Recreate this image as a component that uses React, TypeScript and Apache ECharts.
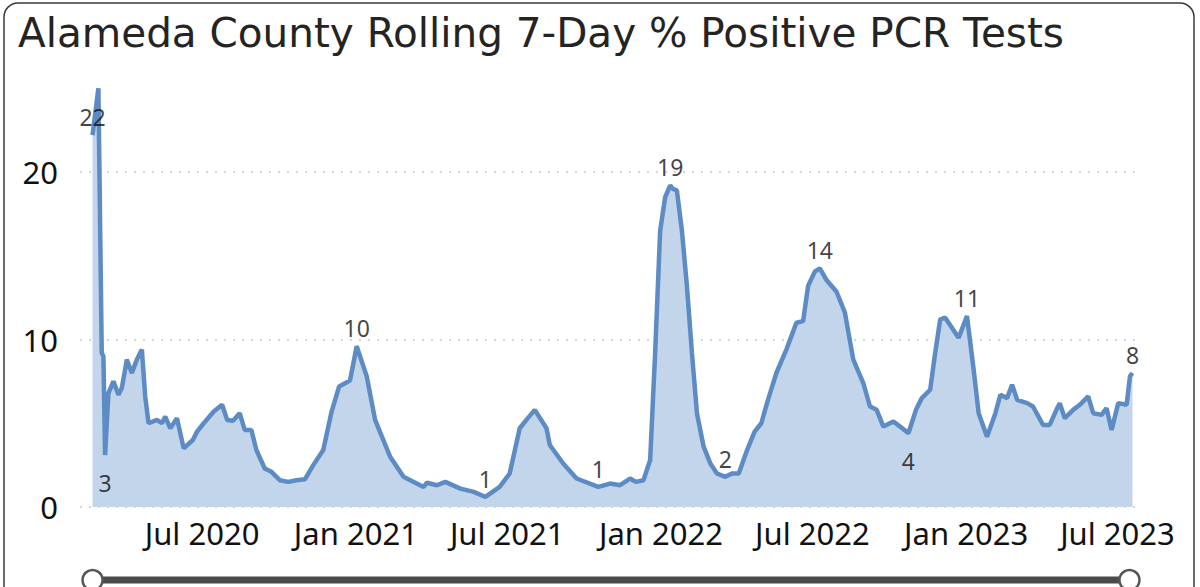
import React, { useEffect, useRef } from 'react';
import * as echarts from 'echarts';

const dates: string[] = [
  '2020-02-21', '2020-02-28', '2020-03-03', '2020-03-05', '2020-03-07', '2020-03-11', '2020-03-17', '2020-03-23',
  '2020-03-27', '2020-04-02', '2020-04-08', '2020-04-14', '2020-04-20', '2020-04-24', '2020-04-28', '2020-05-08',
  '2020-05-14', '2020-05-18', '2020-05-24', '2020-06-01', '2020-06-09', '2020-06-20', '2020-06-25', '2020-07-03',
  '2020-07-15', '2020-07-25', '2020-07-31', '2020-08-07', '2020-08-15', '2020-08-21', '2020-08-29', '2020-09-04',
  '2020-09-14', '2020-09-22', '2020-10-02', '2020-10-12', '2020-10-22', '2020-11-01', '2020-11-11', '2020-11-23',
  '2020-12-03', '2020-12-12', '2020-12-25', '2021-01-02', '2021-01-14', '2021-01-24', '2021-02-11', '2021-02-27',
  '2021-03-23', '2021-03-27', '2021-04-08', '2021-04-18', '2021-05-06', '2021-05-22', '2021-06-05', '2021-06-22',
  '2021-07-04', '2021-07-16', '2021-07-24', '2021-08-03', '2021-08-17', '2021-08-21', '2021-09-06', '2021-09-22',
  '2021-10-18', '2021-11-01', '2021-11-13', '2021-11-25', '2021-12-02', '2021-12-11', '2021-12-19', '2021-12-25',
  '2021-12-31', '2022-01-06', '2022-01-12', '2022-01-15', '2022-01-20', '2022-01-26', '2022-02-01', '2022-02-07',
  '2022-02-13', '2022-02-21', '2022-03-01', '2022-03-09', '2022-03-19', '2022-03-27', '2022-04-04', '2022-04-14',
  '2022-04-23', '2022-05-01', '2022-05-09', '2022-05-19', '2022-05-31', '2022-06-06', '2022-06-12', '2022-06-20',
  '2022-06-26', '2022-07-04', '2022-07-10', '2022-07-18', '2022-07-30', '2022-08-09', '2022-08-19', '2022-08-31',
  '2022-09-08', '2022-09-16', '2022-09-24', '2022-10-06', '2022-10-14', '2022-10-24', '2022-11-02', '2022-11-09',
  '2022-11-19', '2022-11-25', '2022-12-01', '2022-12-07', '2022-12-15', '2022-12-23', '2023-01-02', '2023-01-10',
  '2023-01-16', '2023-01-26', '2023-02-05', '2023-02-11', '2023-02-19', '2023-02-25', '2023-03-03', '2023-03-15',
  '2023-03-22', '2023-04-03', '2023-04-11', '2023-04-19', '2023-04-23', '2023-04-29', '2023-05-09', '2023-05-17',
  '2023-05-27', '2023-06-02', '2023-06-12', '2023-06-18', '2023-06-24', '2023-07-02', '2023-07-12', '2023-07-16',
  '2023-07-19',
];

const values: number[] = [
  22.2, 25.0, 9.2, 9.0, 3.1, 6.8, 7.5, 6.7,
  7.1, 8.8, 8.0, 8.8, 9.4, 6.6, 5.0, 5.2,
  5.0, 5.4, 4.7, 5.3, 3.5, 4.0, 4.5, 5.0,
  5.7, 6.1, 5.2, 5.15, 5.6, 4.6, 4.6, 3.4,
  2.3, 2.1, 1.6, 1.5, 1.6, 1.65, 2.5, 3.4,
  5.7, 7.2, 7.55, 9.6, 7.8, 5.2, 3.0, 1.8,
  1.2, 1.45, 1.3, 1.5, 1.1, 0.9, 0.6, 1.2,
  2.0, 4.7, 5.2, 5.8, 4.7, 3.7, 2.6, 1.7,
  1.2, 1.4, 1.3, 1.7, 1.5, 1.6, 2.8, 9.2,
  16.5, 18.5, 19.2, 19.0, 18.9, 16.5, 13.2, 9.2,
  5.6, 3.6, 2.6, 2.0, 1.8, 2.0, 2.0, 3.4,
  4.5, 5.0, 6.4, 8.0, 9.4, 10.2, 11.0, 11.1,
  13.2, 14.05, 14.25, 13.55, 12.85, 11.6, 8.8, 7.4,
  6.0, 5.8, 4.8, 5.1, 4.8, 4.4, 5.8, 6.5,
  7.0, 9.2, 11.2, 11.3, 10.7, 10.1, 11.4, 8.2,
  5.6, 4.2, 5.6, 6.7, 6.5, 7.3, 6.4, 6.2,
  6.0, 4.9, 4.9, 5.8, 6.2, 5.3, 5.8, 6.1,
  6.6, 5.6, 5.5, 5.9, 4.6, 6.2, 6.1, 7.8,
  8.0,
];

const labelDates: string[] = [
  '2020-02-21', '2020-03-07', '2021-01-02', '2021-06-05', '2021-10-18', '2022-01-12',
  '2022-03-19', '2022-07-10', '2022-10-24', '2023-01-02', '2023-07-19',
];
const labelPositions: string[] = [
  'top', 'bottom', 'top', 'top', 'top', 'top', 'top', 'top', 'bottom', 'top', 'top',
];

const xTickDates: string[] = [
  '2020-07-01', '2021-01-01', '2021-07-01', '2022-01-01', '2022-07-01', '2023-01-01', '2023-07-01',
];
const xTickLabels: string[] = [
  'Jul 2020', 'Jan 2021', 'Jul 2021', 'Jan 2022', 'Jul 2022', 'Jan 2023', 'Jul 2023',
];
const xRange: string[] = ['2020-02-06', '2023-07-28'];
const yTicks: number[] = [0, 10, 20];

const TITLE = 'Alameda County Rolling 7-Day % Positive PCR Tests';

const toTs = (s: string): number => {
  const [y, m, d] = s.split('-').map(Number);
  return Date.UTC(y, m - 1, d);
};

export default function App() {
  const ref = useRef<HTMLDivElement>(null);

  useEffect(() => {
    if (!ref.current) return;
    const chart = echarts.init(ref.current, undefined, { renderer: 'svg' });

    const lineData = dates.map((d, i) => [toTs(d), values[i]]);
    const labelData = labelDates.map((d, i) => {
      const idx = dates.indexOf(d);
      return {
        value: [toTs(d), values[idx]],
        label: {
          show: true,
          position: labelPositions[i],
          distance: labelPositions[i] === 'top' ? 6 : 16,
        },
      };
    });
    const tickTs = xTickDates.map(toTs);

    chart.setOption({
      animation: false,
      title: {
        text: TITLE,
        left: 13,
        top: 7,
        textStyle: {
          fontFamily: 'DejaVu Sans',
          fontSize: 40.5,
          fontWeight: 'normal',
          color: '#252423',
        },
      },
      grid: { left: 80, right: 60, top: 172, bottom: 80 },
      xAxis: {
        type: 'value',
        min: toTs(xRange[0]),
        max: toTs(xRange[1]),
        axisLine: { show: false },
        axisTick: { show: false },
        splitLine: { show: false },
        axisLabel: {
          customValues: tickTs,
          formatter: (v: number) => {
            const i = tickTs.indexOf(v);
            return i >= 0 ? xTickLabels[i] : '';
          },
          fontFamily: 'Noto Sans',
          fontSize: 31,
          color: '#111',
          margin: 10,
          hideOverlap: false,
        },
      },
      yAxis: {
        type: 'value',
        min: yTicks[0],
        max: yTicks[yTicks.length - 1],
        interval: 10,
        axisLine: { show: false },
        axisTick: { show: false },
        splitLine: {
          show: true,
          lineStyle: { color: '#c8c8c8', type: [2, 7], width: 1.5 },
        },
        axisLabel: {
          fontFamily: 'Noto Sans',
          fontSize: 31,
          color: '#111',
          margin: 22,
        },
      },
      series: [
        {
          type: 'line',
          data: lineData,
          showSymbol: false,
          clip: false,
          lineStyle: { color: '#5d8bc4', width: 4.5 },
          itemStyle: { color: '#5d8bc4' },
          areaStyle: { color: '#c3d5ea', opacity: 1 },
          z: 2,
        },
        {
          type: 'scatter',
          data: labelData,
          symbolSize: 1,
          clip: false,
          itemStyle: { color: 'rgba(0,0,0,0)' },
          label: {
            fontFamily: 'Noto Sans',
            fontSize: 23,
            color: '#111',
            formatter: (p: any) => String(Math.round(p.value[1])),
          },
          z: 3,
        },
      ],
    });

    const p0 = chart.convertToPixel({ gridIndex: 0 }, [toTs(dates[0]), 0]) as number[];
    const p1 = chart.convertToPixel({ gridIndex: 0 }, [toTs(dates[dates.length - 1]), 0]) as number[];
    const sy = 580;

    chart.setOption({
      graphic: [
        {
          type: 'rect',
          shape: { x: 4, y: 3, width: 1190, height: 640, r: 14 },
          style: { fill: 'none', stroke: '#3a3a3a', lineWidth: 1.5 },
          z: 0,
          silent: true,
        },
        {
          type: 'rect',
          shape: { x: p0[0], y: sy - 3.5, width: p1[0] - p0[0], height: 7 },
          style: { fill: '#4a4a4a' },
          z: 10,
        },
        {
          type: 'circle',
          shape: { cx: p0[0], cy: sy, r: 10 },
          style: { fill: '#fff', stroke: '#555', lineWidth: 2.5 },
          z: 11,
        },
        {
          type: 'circle',
          shape: { cx: p1[0] - 3, cy: sy, r: 10 },
          style: { fill: '#fff', stroke: '#555', lineWidth: 2.5 },
          z: 11,
        },
      ],
    });

    return () => chart.dispose();
  }, []);

  return (
    <div
      ref={ref}
      style={{ position: 'absolute', left: 0, top: 0, width: 1200, height: 587, background: '#fff' }}
    />
  );
}
